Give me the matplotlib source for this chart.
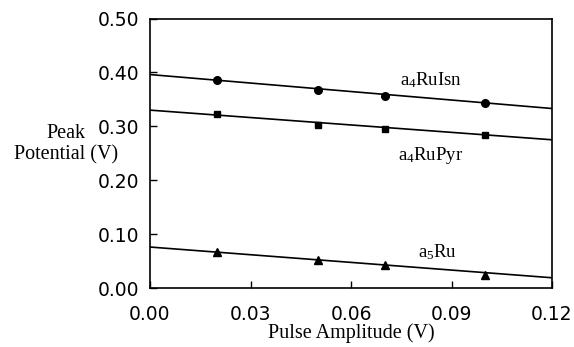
import matplotlib
matplotlib.use("Agg")
import matplotlib.pyplot as plt

# Data
pulse = [0.02, 0.05, 0.07, 0.10]
isn = [0.386, 0.367, 0.356, 0.344]
pyr = [0.323, 0.302, 0.295, 0.284]
a5ru = [0.066, 0.052, 0.043, 0.025]

fit_x = [0.0, 0.12]
isn_fit = [0.396, 0.333]
pyr_fit = [0.330, 0.275]
a5ru_fit = [0.076, 0.019]

xticks = [0.00, 0.03, 0.06, 0.09, 0.12]
yticks = [0.00, 0.10, 0.20, 0.30, 0.40, 0.50]

plt.rcParams['mathtext.fontset'] = 'custom'
plt.rcParams['mathtext.rm'] = 'Liberation Serif'
plt.rcParams['mathtext.it'] = 'Liberation Serif:italic'

fig = plt.figure(figsize=(5.74, 3.47), dpi=100)
ax = fig.add_axes([150/574, 1-288/347, (552-150)/574, (288-18.5)/347])

lw = 1.2
ax.plot(fit_x, isn_fit, color='black', lw=lw)
ax.plot(fit_x, pyr_fit, color='black', lw=lw)
ax.plot(fit_x, a5ru_fit, color='black', lw=lw)
ax.plot(pulse, isn, 'o', color='black', ms=5.5)
ax.plot(pulse, pyr, 's', color='black', ms=5)
ax.plot(pulse, a5ru, '^', color='black', ms=5.5)

ax.set_xlim(0, 0.12)
ax.set_ylim(0, 0.5)
ax.set_xticks(xticks)
ax.set_yticks(yticks)
ax.set_xticklabels([f"{v:.2f}" for v in xticks])
ax.set_yticklabels([f"{v:.2f}" for v in yticks])
ax.tick_params(direction='in', length=5, width=1, labelsize=13.5,
               top=False, right=False)
ax.tick_params(axis='y', pad=8)
ax.tick_params(axis='x', pad=12)
for sp in ax.spines.values():
    sp.set_linewidth(1.2)

serif = 'Liberation Serif'
ax.set_xlabel('Pulse Amplitude (V)', fontfamily=serif, fontsize=14.5, labelpad=0)
fig.text(66/574, 1-133/347, 'Peak', fontfamily=serif, fontsize=14.5,
         ha='center', va='center')
fig.text(66/574, 1-155/347, 'Potential (V)', fontfamily=serif, fontsize=14.5,
         ha='center', va='center')

ax.text(0.0745, 0.385, r'a$_4$RuIsn', fontfamily=serif, fontsize=13.5, va='center')
ax.text(0.0740, 0.245, r'a$_4$RuPyr', fontfamily=serif, fontsize=13.5, va='center')
ax.text(0.0800, 0.067, r'a$_5$Ru', fontfamily=serif, fontsize=13.5, va='center')

fig.savefig('out.png', dpi=100)
